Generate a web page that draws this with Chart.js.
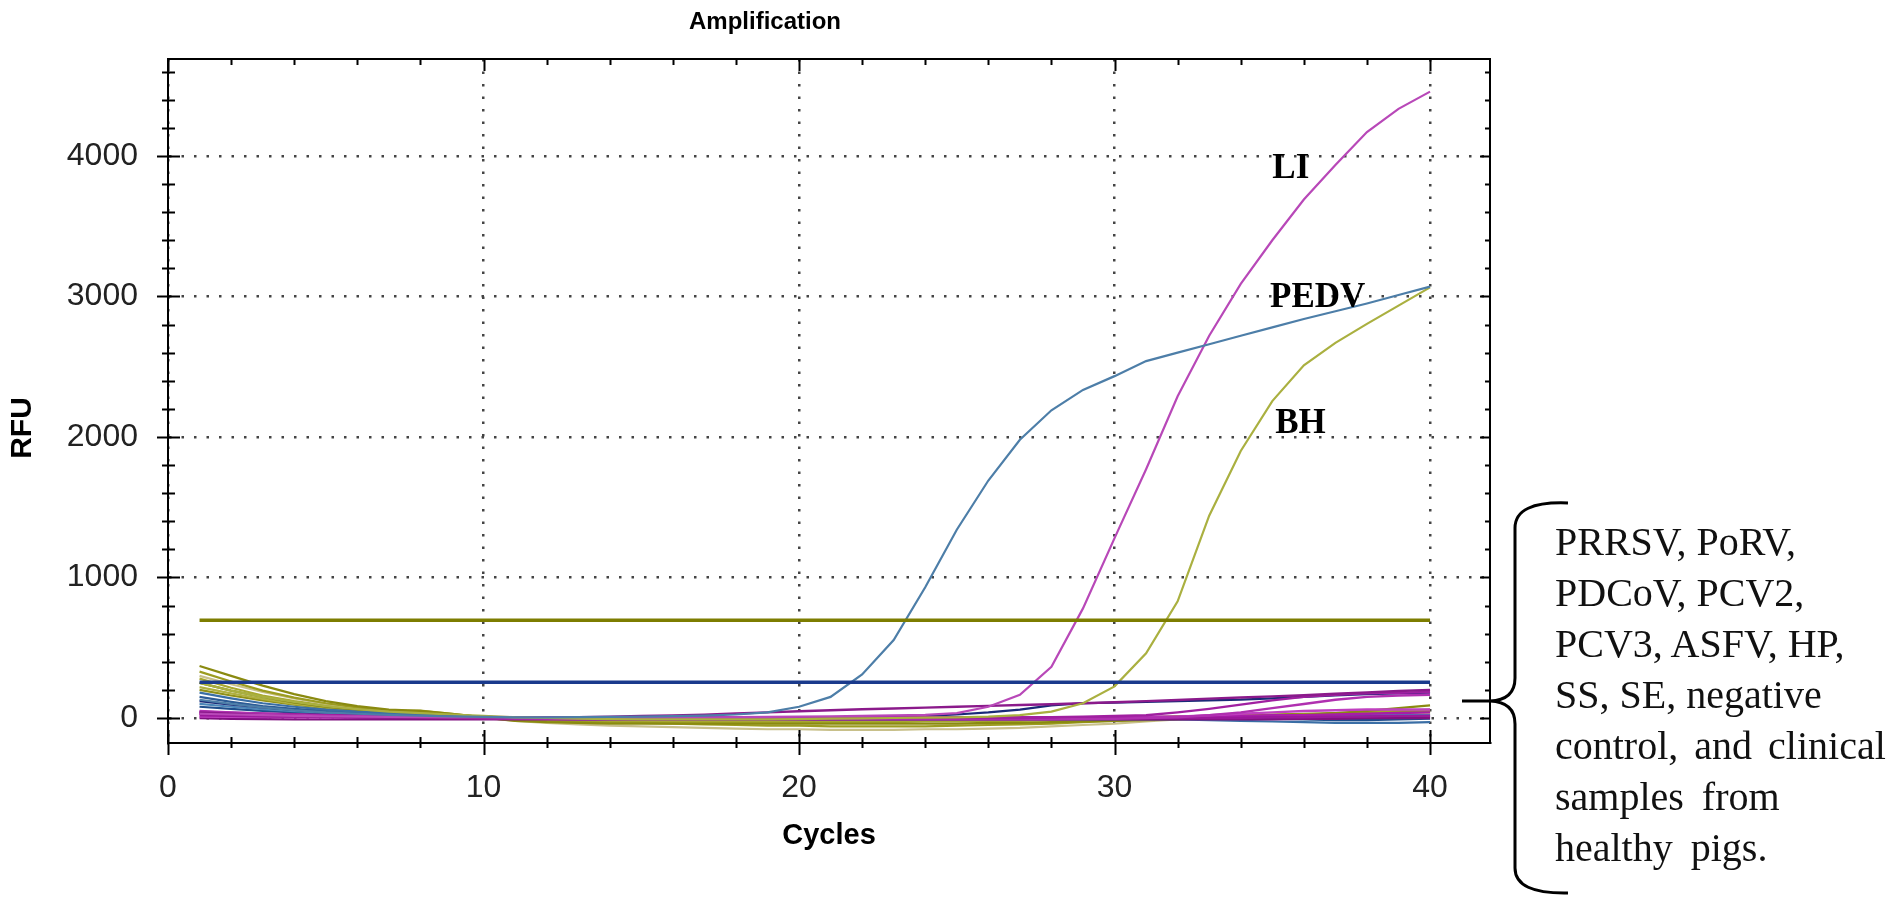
<!DOCTYPE html>
<html>
<head>
<meta charset="utf-8">
<title>Amplification</title>
<script src="https://cdn.jsdelivr.net/npm/chart.js@4.4.1/dist/chart.umd.min.js"></script>
<style>
    html, body { margin: 0; padding: 0; background: #fff; }
    #wrap { position: relative; width: 1902px; height: 908px; overflow: hidden; }
    #ampChart { position: absolute; left: 0; top: 0; }
    #note {
        position: absolute; left: 1555px; top: 516px;
        font-family: "Liberation Serif", "Times New Roman", serif;
        font-size: 40px; line-height: 51px; color: #111; white-space: nowrap;
    }
</style>
</head>
<body>
<div id="wrap">
    <canvas id="ampChart" width="1902" height="908"></canvas>
    <div id="note">
        <div>PRRSV, PoRV,</div>
        <div>PDCoV, PCV2,</div>
        <div>PCV3, ASFV, HP,</div>
        <div>SS, SE, negative</div>
        <div style="word-spacing:6px">control, and clinical</div>
        <div style="word-spacing:8px">samples from</div>
        <div style="word-spacing:8px">healthy pigs.</div>
    </div>
</div>
<script>
/* ==========================================
        DATA
========================================== */

const cycles = [
    1, 2, 3, 4, 5, 6, 7, 8, 9, 10,
    11, 12, 13, 14, 15, 16, 17, 18, 19, 20,
    21, 22, 23, 24, 25, 26, 27, 28, 29, 30,
    31, 32, 33, 34, 35, 36, 37, 38, 39, 40
];

const xTickValues = [0, 10, 20, 30, 40];
const yTickValues = [0, 1000, 2000, 3000, 4000];

// thresholds (RFU)
const thresholdOlive = 695;
const thresholdBlue = 255;

// positive samples
const pedv = [
    130, 100, 75, 55, 40, 30, 22, 16, 12, 8,
    5, 5, 6, 8, 10, 13, 17, 25, 40, 80,
    150, 310, 555, 930, 1340, 1690, 1980, 2190, 2335, 2433,
    2540, 2600, 2660, 2720, 2780, 2840, 2895, 2950, 3010, 3070
];

const li = [
    30, 25, 20, 15, 12, 10, 8, 6, 5, 4,
    3, 3, 3, 3, 3, 4, 5, 6, 8, 10,
    12, 15, 18, 22, 35, 80, 165, 365, 780, 1280,
    1770, 2290, 2720, 3090, 3400, 3690, 3935, 4170, 4335, 4458
];

const bh = [
    250, 195, 150, 115, 85, 62, 45, 35, 25, 15,
    5, 0, -5, -8, -10, -10, -10, -10, -10, -8,
    -5, -3, 0, 2, 5, 10, 20, 45, 105, 225,
    460, 830, 1440, 1900, 2255, 2510, 2670, 2805, 2935, 3065
];

// negative samples - olive channel
const olive1 = [
    370, 300, 230, 170, 120, 85, 60, 50, 30, 5,
    -20, -30, -35, -40, -40, -40, -40, -40, -40, -40,
    -40, -40, -40, -40, -40, -35, -35, -30, -25, -20,
    -15, -10, -5, 0, 10, 20, 35, 50, 70, 90
];
const olive2 = [
    330, 260, 195, 145, 105, 75, 55, 45, 25, 0,
    -15, -25, -30, -35, -35, -40, -45, -50, -55, -55,
    -60, -60, -60, -60, -55, -50, -45, -40, -30, -20,
    -10, 0, 10, 15, 20, 25, 30, 35, 40, 45
];
const olive3 = [
    300, 240, 185, 140, 100, 70, 50, 40, 20, 0,
    -20, -35, -45, -55, -60, -65, -70, -75, -80, -80,
    -85, -85, -85, -80, -80, -75, -70, -60, -50, -40,
    -25, -10, 0, 10, 15, 20, 25, 30, 30, 35
];
const olive4 = [
    280, 215, 160, 120, 90, 65, 50, 52, 30, 5,
    -10, -20, -25, -30, -30, -30, -30, -30, -30, -30,
    -30, -30, -30, -25, -25, -20, -20, -15, -10, -5,
    0, 5, 10, 15, 20, 25, 30, 40, 50, 60
];
const olive5 = [
    250, 195, 150, 110, 80, 60, 45, 40, 25, 5,
    -10, -15, -20, -20, -20, -20, -20, -20, -20, -20,
    -20, -20, -15, -15, -15, -10, -10, -10, -5, 0,
    5, 10, 15, 20, 25, 30, 35, 40, 45, 50
];
const olive6 = [
    220, 175, 135, 100, 75, 55, 40, 35, 20, 5,
    -5, -10, -15, -15, -15, -15, -15, -15, -15, -15,
    -10, -10, -10, -10, -10, -5, -5, 0, 0, 5,
    5, 10, 10, 15, 15, 20, 20, 25, 25, 30
];
const olive7 = [
    200, 160, 125, 95, 70, 50, 38, 30, 18, 3,
    -5, -10, -12, -12, -12, -12, -12, -12, -12, -12,
    -12, -10, -10, -10, -8, -8, -5, -5, -3, 0,
    3, 5, 8, 10, 12, 15, 18, 20, 22, 25
];

// negative samples - blue channel
const blue1 = [
    180, 140, 105, 80, 60, 45, 35, 28, 20, 10,
    0, -5, -10, -10, -10, -10, -10, -10, -10, -10,
    -10, -10, -10, -10, -10, -10, -10, -10, -10, -10,
    -10, -10, -15, -20, -25, -30, -35, -35, -35, -30
];
const blue2 = [
    150, 115, 85, 65, 50, 38, 28, 22, 15, 8,
    0, -5, -5, -5, -5, -5, -5, -5, -5, -5,
    -5, -5, -5, -5, -5, -5, -5, -5, -5, 0,
    0, 0, 0, 0, 5, 5, 5, 10, 10, 10
];
const blue3 = [
    120, 95, 75, 58, 45, 35, 28, 22, 15, 8,
    3, 0, 0, 0, 0, 0, 0, 0, 0, 0,
    0, 5, 10, 15, 25, 40, 60, 90, 105, 110,
    115, 120, 125, 130, 140, 150, 160, 170, 175, 180
];
const blue4 = [
    100, 80, 62, 48, 38, 30, 24, 18, 12, 6,
    2, 0, -2, -2, -2, -2, -2, -2, -2, -2,
    -2, -2, -2, -2, -2, 0, 0, 0, 0, 0,
    0, 5, 5, 10, 10, 15, 15, 20, 20, 20
];
const blue5 = [
    80, 65, 50, 40, 32, 25, 20, 15, 10, 5,
    2, 0, 0, 0, 0, 0, 0, 0, 0, 0,
    0, 0, 0, 0, 0, 0, 0, 0, 0, 0,
    0, 0, 0, 0, -5, -10, -15, -15, -10, -5
];

// negative samples - magenta channel
const magenta1 = [
    40, 30, 20, 15, 10, 5, 3, 2, 1, 0,
    0, 2, 6, 10, 14, 18, 24, 32, 40, 48,
    55, 62, 68, 74, 80, 86, 92, 98, 105, 112,
    120, 128, 138, 146, 154, 162, 172, 182, 192, 200
];
const magenta2 = [
    30, 22, 15, 10, 6, 3, 2, 1, 0, 0,
    0, 0, 0, 0, 0, 0, 0, 0, 0, 0,
    0, 0, 0, 0, 0, 0, 0, 5, 10, 15,
    20, 40, 65, 95, 125, 150, 165, 175, 180, 185
];
const magenta3 = [
    50, 40, 30, 22, 16, 12, 8, 5, 3, 0,
    -5, -8, -10, -10, -10, -10, -10, -10, -10, -10,
    -10, -10, -10, -10, -10, -10, -10, -10, -5, -5,
    0, 5, 20, 40, 70, 100, 130, 150, 160, 165
];
const magenta4 = [
    20, 15, 12, 10, 8, 6, 5, 4, 3, 2,
    0, 0, 0, 0, 0, 0, 0, 0, 0, 0,
    0, 0, 0, 0, 0, 0, 0, 0, 0, 0,
    0, 0, 0, 0, 5, 5, 10, 10, 15, 15
];
const magenta5 = [
    10, 8, 6, 5, 4, 3, 2, 2, 1, 0,
    0, 0, 0, 0, 0, 0, 0, 0, 0, 0,
    0, 0, 0, 0, 0, 0, 0, 0, 0, 0,
    5, 10, 20, 30, 40, 50, 55, 60, 60, 60
];
const magenta6 = [
    0, -5, -8, -10, -10, -10, -10, -10, -10, -10,
    -10, -10, -10, -10, -10, -10, -10, -10, -10, -10,
    -10, -10, -10, -10, -10, -10, -10, -10, -10, -10,
    -10, -10, -10, -10, -10, -5, -5, 0, 0, 0
];
const magenta7 = [
    35, 28, 22, 18, 15, 12, 10, 8, 6, 5,
    5, 5, 5, 5, 5, 5, 5, 5, 5, 5,
    5, 5, 5, 5, 5, 5, 5, 5, 5, 5,
    10, 10, 15, 15, 20, 20, 25, 30, 35, 40
];
const magenta8 = [
    45, 38, 32, 27, 22, 18, 15, 12, 10, 8,
    6, 5, 4, 4, 4, 4, 4, 4, 4, 4,
    4, 4, 4, 4, 4, 4, 4, 4, 4, 4,
    4, 4, 4, 5, 5, 6, 8, 10, 12, 15
];

/* ==========================================
        STYLE
========================================== */

const FONT_SANS = "'Liberation Sans', Arial, sans-serif";
const FONT_SERIF = "'Liberation Serif', 'Times New Roman', serif";

const oliveSeries = [olive1, olive2, olive3, olive4, olive5, olive6, olive7];
const oliveColors = ["#8a8a10", "#9c9c20", "#c8c08a", "#a8a830", "#7c7c08", "#b0b040", "#909018"];

const blueSeries = [blue1, blue2, blue3, blue4, blue5];
const blueColors = ["#3a6ea5", "#2c5c96", "#1a2a78", "#4a86b8", "#1f4e8c"];

const magentaSeries = [magenta1, magenta2, magenta3, magenta4, magenta5, magenta6, magenta7, magenta8];
const magentaColors = ["#8b1a8b", "#a020a0", "#b030b0", "#9a189a", "#c040c0", "#801080", "#a81ca8", "#951595"];

const curveLabels = [
    { text: "LI", x: 35.0, y: 3843 },
    { text: "PEDV", x: 34.93, y: 2925 },
    { text: "BH", x: 35.09, y: 2028 }
];

/* ==========================================
        BUILD DATASETS
========================================== */

function toPoints(values) {

    return cycles.map((c, i) => ({ x: c, y: values[i] }));

}

function lineSet(values, color, width, order) {

    return {
        data: toPoints(values),
        borderColor: color,
        borderWidth: width,
        pointRadius: 0,
        tension: 0,
        fill: false,
        order: order
    };

}

function thresholdSet(value, color) {

    return {
        data: [
            { x: cycles[0], y: value },
            { x: cycles[cycles.length - 1], y: value }
        ],
        borderColor: color,
        borderWidth: 3.5,
        pointRadius: 0,
        fill: false,
        order: 0
    };

}

const datasets = [];

oliveSeries.forEach((s, i) => datasets.push(lineSet(s, oliveColors[i], 2.2, 4)));
blueSeries.forEach((s, i) => datasets.push(lineSet(s, blueColors[i], 2.2, 3)));
magentaSeries.forEach((s, i) => datasets.push(lineSet(s, magentaColors[i], 2.4, 2)));

datasets.push(lineSet(pedv, "#4d7ea8", 2.2, 1));
datasets.push(lineSet(bh, "#aab040", 2.2, 1));
datasets.push(lineSet(li, "#b848b8", 2.2, 1));

datasets.push(thresholdSet(thresholdOlive, "#7d7d00"));
datasets.push(thresholdSet(thresholdBlue, "#1a3a8c"));

/* ==========================================
        FRAME, MINOR TICKS, BRACE, LABELS
========================================== */

const frameTicks = {

    id: "frameTicks",

    afterDraw(chart) {

        const { ctx, chartArea: a, scales: { x, y } } = chart;

        ctx.save();

        ctx.strokeStyle = "#000";
        ctx.lineWidth = 2;

        // top + right frame
        ctx.beginPath();
        ctx.moveTo(a.left, a.top);
        ctx.lineTo(a.right, a.top);
        ctx.lineTo(a.right, a.bottom);
        ctx.stroke();

        // y ticks every 200
        for (let v = 0; v <= y.max; v += 200) {

            const py = Math.round(y.getPixelForValue(v)) + 0.5;
            const major = v % 1000 === 0;

            ctx.beginPath();
            ctx.moveTo(a.left - (major ? 11 : 6), py);
            ctx.lineTo(a.left + (major ? 12 : 7), py);
            ctx.moveTo(a.right, py);
            ctx.lineTo(a.right - (major ? 10 : 5), py);
            ctx.stroke();

        }

        // x ticks every 2 cycles
        for (let c = 0; c <= x.max; c += 2) {

            const px = Math.round(x.getPixelForValue(c)) + 0.5;
            const major = c % 10 === 0;

            ctx.beginPath();
            ctx.moveTo(px, a.bottom - (major ? 13 : 6));
            ctx.lineTo(px, a.bottom + (major ? 12 : 5));
            ctx.moveTo(px, a.top);
            ctx.lineTo(px, a.top + (major ? 12 : 6));
            ctx.stroke();

        }

        // y axis title
        ctx.fillStyle = "#000";
        ctx.save();
        ctx.translate(23, 428);
        ctx.rotate(-Math.PI / 2);
        ctx.font = "bold 30px " + FONT_SANS;
        ctx.textAlign = "center";
        ctx.textBaseline = "middle";
        ctx.fillText("RFU", 0, 0);
        ctx.restore();

        // curve labels
        ctx.font = "bold 35px " + FONT_SERIF;
        ctx.textBaseline = "alphabetic";
        ctx.textAlign = "left";

        curveLabels.forEach(l => {
            ctx.fillText(l.text, x.getPixelForValue(l.x), y.getPixelForValue(l.y));
        });

        // curly brace
        ctx.lineWidth = 3;
        ctx.beginPath();
        ctx.moveTo(1568, 503);
        ctx.quadraticCurveTo(1515, 501, 1515, 528);
        ctx.lineTo(1515, 678);
        ctx.quadraticCurveTo(1515, 700, 1490, 701);
        ctx.lineTo(1462, 701);
        ctx.moveTo(1490, 701);
        ctx.quadraticCurveTo(1515, 702, 1515, 724);
        ctx.lineTo(1515, 868);
        ctx.quadraticCurveTo(1515, 894, 1568, 893);
        ctx.stroke();

        ctx.restore();

    }

};

/* ==========================================
        CREATE CHART
========================================== */

const ctx = document.getElementById("ampChart").getContext("2d");

const ampChart = new Chart(ctx, {

    type: "line",

    data: { datasets },

    plugins: [frameTicks],

    options: {

        responsive: false,
        devicePixelRatio: 1,
        animation: false,

        layout: {
            padding: { left: 40, right: 412, top: 0, bottom: 0 }
        },

        plugins: {

            legend: { display: false },
            tooltip: { enabled: false },

            title: {
                display: true,
                text: "Amplification",
                color: "#000",
                font: { family: FONT_SANS, size: 24, weight: "bold" },
                padding: { top: 7.6, bottom: 22.6 }
            }

        },

        scales: {

            x: {
                type: "linear",
                min: 0,
                max: 41.9,
                afterBuildTicks: scale => {
                    scale.ticks = xTickValues.map(v => ({ value: v }));
                },
                afterFit: scale => {
                    scale.height = 165;
                },
                ticks: {
                    color: "#222",
                    padding: 26,
                    maxRotation: 0,
                    autoSkip: false,
                    font: { family: FONT_SANS, size: 32 },
                    callback: value => String(value)
                },
                grid: {
                    color: "#444",
                    lineWidth: 2.5,
                    drawTicks: false
                },
                border: {
                    display: true,
                    color: "#000",
                    width: 2,
                    dash: [2.5, 10]
                },
                title: {
                    display: true,
                    text: "Cycles",
                    color: "#000",
                    font: { family: FONT_SANS, size: 29, weight: "bold" },
                    padding: { top: 0, bottom: 55 }
                }
            },

            y: {
                type: "linear",
                min: -178,
                max: 4690,
                afterBuildTicks: scale => {
                    scale.ticks = yTickValues.map(v => ({ value: v }));
                },
                afterFit: scale => {
                    scale.width = 128;
                },
                ticks: {
                    color: "#222",
                    padding: 30,
                    font: { family: FONT_SANS, size: 32 },
                    callback: value => String(value)
                },
                grid: {
                    color: "#444",
                    lineWidth: 2.5,
                    drawTicks: false
                },
                border: {
                    display: true,
                    color: "#000",
                    width: 2,
                    dash: [2.5, 10]
                }
            }

        }

    }

});
</script>
</body>
</html>
